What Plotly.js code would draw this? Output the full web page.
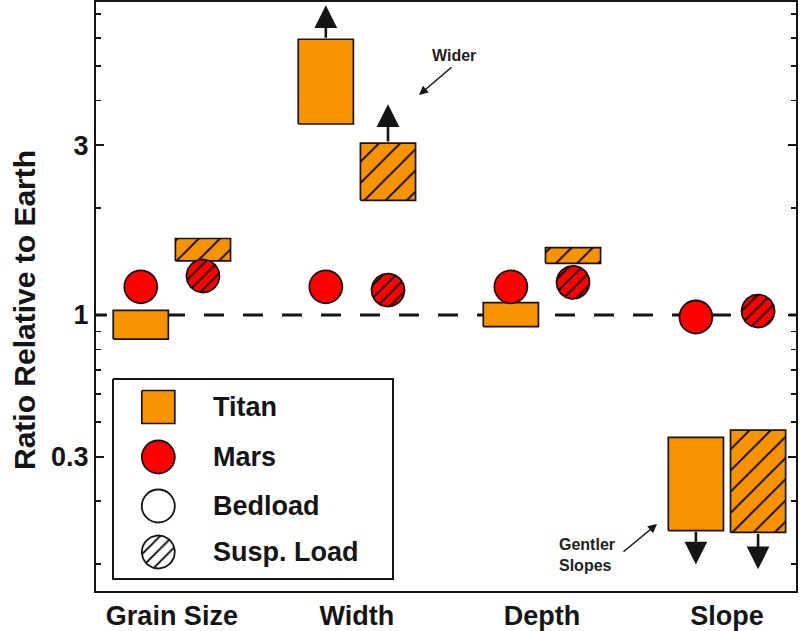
<!DOCTYPE html>
<html><head><meta charset="utf-8">
<script src="https://cdn.plot.ly/plotly-3.0.1.min.js"></script>
<style>html,body{margin:0;padding:0;background:#fff}#chart{width:802px;height:631px}</style>
</head><body><div id="chart"></div>
<script>
// ---------------- data ----------------
const categories = ['Grain Size', 'Width', 'Depth', 'Slope'];
const titanBedLow   = [0.856, 3.44, 0.927, 0.248];
const titanBedHigh  = [1.03, 5.95, 1.083, 0.453];
const titanSuspLow  = [1.42, 2.10, 1.397, 0.245];
const titanSuspHigh = [1.64, 3.04, 1.546, 0.475];
const marsBed  = [1.20, 1.20, 1.20, 0.987];
const marsSusp = [1.287, 1.175, 1.235, 1.026];
// open-ended Titan estimates: value the arrow points to (null = bounded)
const titanBedArrowTo  = [null, 7.42, null, 0.199];
const titanSuspArrowTo = [null, 3.91, null, 0.193];
const referenceLevel = 1;
const yTickVals = [0.4, 1, 3];
const yTickText = ['0.3', '1', '3'];
const yMinorVals = [0.2, 0.3, 0.5, 0.6, 0.7, 0.8, 0.9, 2, 4, 5, 6, 7];
const legendLabels = ['Titan', 'Mars', 'Bedload', 'Susp. Load'];
const yTitle = 'Ratio Relative to Earth';

// ---------------- layout constants ----------------
const W = 802, H = 631;
const M = {l: 96, r: 6, t: 2, b: 40};
const plotW = W - M.l - M.r, plotH = H - M.t - M.b;
const xRange = [-0.41, 3.373];
const yRange = [-0.7753, 0.8792];
const pxPerX = plotW / (xRange[1] - xRange[0]);
const pxPerDec = plotH / (yRange[1] - yRange[0]);
const offset = 0.168, halfBox = 0.149, circR = 16.5;
const ORANGE = '#F79300', RED = '#FF0000', INK = '#151515';
const FONT = 'Liberation Sans, Arial, Helvetica, sans-serif';

const traces = [];
// reference dashed line
traces.push({
  x: [xRange[0] - 9 / pxPerX, xRange[1] + 30 / pxPerX], y: [referenceLevel, referenceLevel],
  mode: 'lines', line: {color: INK, width: 3, dash: '20px,19px'},
  hoverinfo: 'skip', showlegend: false
});

function boxTrace(xc, lo, hi, hatched) {
  const x0 = xc - halfBox, x1 = xc + halfBox;
  const t = {
    x: [x0, x1, x1, x0, x0], y: [lo, lo, hi, hi, lo],
    mode: 'lines', fill: 'toself', fillcolor: ORANGE,
    line: {color: INK, width: 1.7}, hoverinfo: 'skip', showlegend: false
  };
  if (hatched) t.fillpattern = {shape: '/', bgcolor: ORANGE, fgcolor: '#000', size: 15, solidity: 0.12};
  return t;
}
function hatchedCircleData(xc, yc) {
  const xs = [], ys = [];
  for (let k = 0; k <= 64; k++) {
    const a = 2 * Math.PI * k / 64;
    xs.push(xc + circR * Math.cos(a) / pxPerX);
    ys.push(yc * Math.pow(10, circR * Math.sin(a) / pxPerDec));
  }
  return {
    x: xs, y: ys, mode: 'lines', fill: 'toself', fillcolor: RED,
    fillpattern: {shape: '/', bgcolor: RED, fgcolor: '#000', size: 9, solidity: 0.2},
    line: {color: INK, width: 1.8}, hoverinfo: 'skip', showlegend: false
  };
}

categories.forEach((c, i) => {
  traces.push(boxTrace(i - offset, titanBedLow[i], titanBedHigh[i], false));
  traces.push(boxTrace(i + offset, titanSuspLow[i], titanSuspHigh[i], true));
});
traces.push({
  x: categories.map((c, i) => i - offset), y: marsBed, mode: 'markers',
  marker: {symbol: 'circle', size: 2 * circR, color: RED, line: {color: INK, width: 1.8}},
  hoverinfo: 'skip', showlegend: false
});
categories.forEach((c, i) => traces.push(hatchedCircleData(i + offset, marsSusp[i])));

// ---------------- legend (overlay axes in pixel units) ----------------
const L = {x0: 17, x1: 297, y0: 377, y1: 577, sx: 62.3, tx: 115, rows: [405, 455, 504, 550]};
traces.push({
  x: [L.x0, L.x1, L.x1, L.x0, L.x0], y: [L.y0, L.y0, L.y1, L.y1, L.y0],
  xaxis: 'x2', yaxis: 'y2', mode: 'lines', fill: 'toself', fillcolor: '#fff',
  line: {color: INK, width: 2}, hoverinfo: 'skip', showlegend: false
});
traces.push({
  x: [L.sx - circR, L.sx + circR, L.sx + circR, L.sx - circR, L.sx - circR],
  y: [L.rows[0] - circR, L.rows[0] - circR, L.rows[0] + circR, L.rows[0] + circR, L.rows[0] - circR],
  xaxis: 'x2', yaxis: 'y2', mode: 'lines', fill: 'toself', fillcolor: ORANGE,
  line: {color: INK, width: 1.7}, hoverinfo: 'skip', showlegend: false
});
traces.push({
  x: [L.sx, L.sx], y: [L.rows[1], L.rows[2]], xaxis: 'x2', yaxis: 'y2', mode: 'markers',
  marker: {symbol: 'circle', size: 2 * circR, color: [RED, '#fff'], line: {color: INK, width: 1.8}},
  hoverinfo: 'skip', showlegend: false
});
(function () {
  const xs = [], ys = [];
  for (let k = 0; k <= 64; k++) {
    const a = 2 * Math.PI * k / 64;
    xs.push(L.sx + circR * Math.cos(a)); ys.push(L.rows[3] + circR * Math.sin(a));
  }
  traces.push({
    x: xs, y: ys, xaxis: 'x2', yaxis: 'y2', mode: 'lines', fill: 'toself', fillcolor: '#fff',
    fillpattern: {shape: '/', bgcolor: '#fff', fgcolor: '#000', size: 9, solidity: 0.2},
    line: {color: INK, width: 1.8}, hoverinfo: 'skip', showlegend: false
  });
})();

const annotations = [];
legendLabels.forEach((t, k) => annotations.push({
  xref: 'x2', yref: 'y2', x: L.tx, y: L.rows[k], text: t, showarrow: false,
  xanchor: 'left', yanchor: 'middle', font: {family: FONT, size: 27, weight: 'bold', color: INK}
}));

// arrows for open-ended Titan values
function addArrow(xc, from, to) {
  annotations.push({
    xref: 'x', yref: 'y', axref: 'x', ayref: 'y',
    x: xc, y: Math.log10(to), ax: xc, ay: Math.log10(from), text: '',
    showarrow: true, arrowhead: 2, arrowsize: 1.75, arrowwidth: 2.6, arrowcolor: INK,
    standoff: 0, startstandoff: 0
  });
}
categories.forEach((c, i) => {
  if (titanBedArrowTo[i] !== null) {
    const from = titanBedArrowTo[i] > titanBedHigh[i] ? titanBedHigh[i] : titanBedLow[i];
    addArrow(i - offset, from, titanBedArrowTo[i]);
  }
  if (titanSuspArrowTo[i] !== null) {
    const from = titanSuspArrowTo[i] > titanSuspHigh[i] ? titanSuspHigh[i] : titanSuspLow[i];
    addArrow(i + offset, from, titanSuspArrowTo[i]);
  }
});

// text notes
const noteFont = {family: FONT, size: 16, weight: 'bold', color: '#222'};
annotations.push({xref: 'x2', yref: 'y2', x: 358, y: 53, text: 'Wider', showarrow: false, font: noteFont});
annotations.push({xref: 'x2', yref: 'y2', axref: 'x2', ayref: 'y2', x: 323, y: 93, ax: 357, ay: 64,
  text: '', showarrow: true, arrowhead: 2, arrowsize: 1.2, arrowwidth: 1.5, arrowcolor: INK, standoff: 0});
annotations.push({xref: 'x2', yref: 'y2', x: 491, y: 553, text: 'Gentler<br>Slopes', align: 'left',
  showarrow: false, font: noteFont});
annotations.push({xref: 'x2', yref: 'y2', axref: 'x2', ayref: 'y2', x: 561, y: 522, ax: 526, ay: 551,
  text: '', showarrow: true, arrowhead: 2, arrowsize: 1.2, arrowwidth: 1.5, arrowcolor: INK, standoff: 0});

// y-axis title
annotations.push({xref: 'paper', yref: 'paper', x: (24 - M.l) / plotW, y: 1 - (310 - M.t) / plotH,
  xanchor: 'center', yanchor: 'middle', textangle: -90, text: yTitle, showarrow: false,
  font: {family: FONT, size: 30, weight: 'bold', color: INK}});

const axisFont = {family: FONT, size: 27, weight: 'bold', color: INK};
const layout = {
  width: W, height: H, margin: M,
  paper_bgcolor: '#fff', plot_bgcolor: '#fff', showlegend: false,
  xaxis: {
    range: xRange, tickmode: 'array', tickvals: categories.map((c, i) => i), ticktext: categories,
    ticks: '', showline: true, mirror: true, linecolor: INK, linewidth: 2,
    showgrid: false, zeroline: false, tickfont: axisFont, fixedrange: true
  },
  yaxis: {
    type: 'log', range: yRange, tickmode: 'array', tickvals: yTickVals, ticktext: yTickText,
    ticks: 'inside', ticklen: 8, tickwidth: 2, tickcolor: INK,
    minor: {tickmode: 'array', tickvals: yMinorVals, ticks: 'inside', ticklen: 5, tickwidth: 1.5, tickcolor: INK, showgrid: false},
    showline: true, mirror: 'allticks', linecolor: INK, linewidth: 2,
    showgrid: false, zeroline: false, tickfont: axisFont, fixedrange: true
  },
  xaxis2: {overlaying: 'x', range: [0, plotW], visible: false, fixedrange: true},
  yaxis2: {overlaying: 'y', range: [plotH, 0], visible: false, fixedrange: true},
  annotations: annotations
};
Plotly.newPlot('chart', traces, layout, {displayModeBar: false, staticPlot: true});
</script></body></html>
